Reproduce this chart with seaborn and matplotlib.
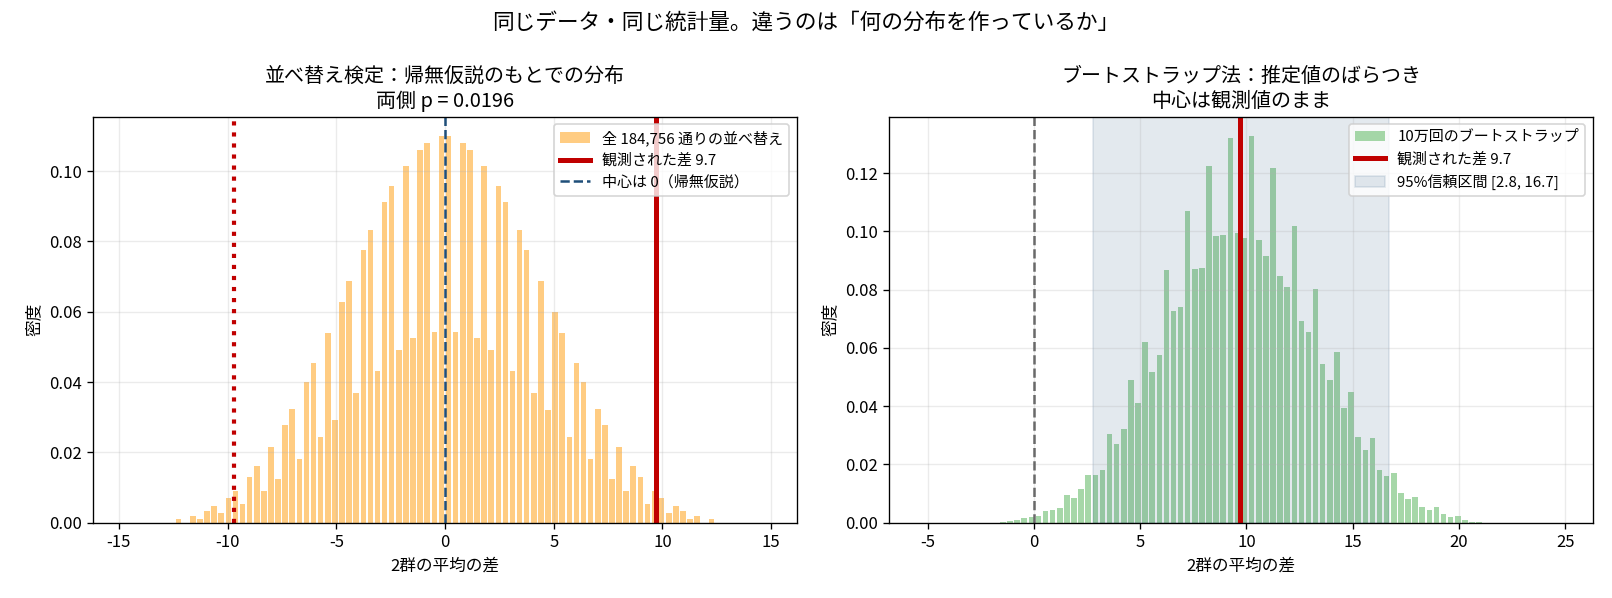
import numpy as np
import matplotlib
matplotlib.use("Agg")
import matplotlib.pyplot as plt
import seaborn as sns

plt.rcParams['font.family'] = ['Noto Sans CJK JP', 'DejaVu Sans']
plt.rcParams['axes.unicode_minus'] = False

# permutation distribution (density per bin), 90 bins over [-14.7, 14.7]
perm_range = (-14.7, 14.7)
perm_nbins = 90
perm_density = [
    0, 0, 0, 0, 0, 0, 0,
    0.0010, 0.0, 0.0019, 0.0010, 0.0033, 0.0047, 0.0027, 0.0070, 0.0090, 0.0053,
    0.0130, 0.0161, 0.0090, 0.0215, 0.0124, 0.0278, 0.0323, 0.0181, 0.0400, 0.0454,
    0.0243, 0.0539, 0.0292, 0.0628, 0.0687, 0.0369, 0.0776, 0.0832, 0.0431, 0.0912,
    0.0958, 0.0491, 0.1014, 0.0525, 0.1060, 0.1080, 0.0542, 0.1100,
    0.1100, 0.0543, 0.1080, 0.1060, 0.0525, 0.1014, 0.0491, 0.0958, 0.0912, 0.0431,
    0.0832, 0.0776, 0.0369, 0.0687, 0.0320, 0.0599, 0.0539, 0.0243, 0.0454, 0.0400,
    0.0181, 0.0323, 0.0278, 0.0124, 0.0215, 0.0090, 0.0161, 0.0130, 0.0053, 0.0090,
    0.0070, 0.0027, 0.0047, 0.0033, 0.0010, 0.0019, 0.0, 0.0010,
    0, 0, 0, 0, 0, 0, 0,
]

# bootstrap distribution (density per bin), 90 bins over [-5.30, 24.79]
boot_range = (-5.30, 24.79)
boot_nbins = 90
boot_density = [
    0, 0, 0, 0, 0, 0, 0, 0, 0, 0, 0,
    0.0003, 0.0004, 0.0009, 0.0015, 0.0019, 0.0022, 0.0040, 0.0043, 0.0050, 0.0094,
    0.0084, 0.0115, 0.0163, 0.0163, 0.0180, 0.0304, 0.0270, 0.0321, 0.0490, 0.0411,
    0.0620, 0.0517, 0.0576, 0.0868, 0.0727, 0.0741, 0.1071, 0.0871, 0.0875, 0.1225,
    0.0985, 0.0988, 0.1321, 0.0995, 0.0978, 0.1328, 0.0971, 0.0916, 0.1218, 0.0847,
    0.0809, 0.1019, 0.0692, 0.0655, 0.0802, 0.0545, 0.0490, 0.0586, 0.0393, 0.0448,
    0.0294, 0.0249, 0.0290, 0.0180, 0.0160, 0.0170, 0.0101, 0.0081, 0.0088, 0.0053,
    0.0043, 0.0053, 0.0029, 0.0019, 0.0022, 0.0008, 0.0003, 0.0003,
    0, 0, 0, 0, 0, 0, 0, 0, 0, 0, 0,
]

observed_diff = 9.7
ci_low, ci_high = 2.8, 16.7
p_two_sided = 0.0196
n_perm = 184756

orange = '#FFB74D'
green = '#81C784'
red = '#C00000'
navy = '#1F4E79'

fig, axes = plt.subplots(1, 2, figsize=(1612 / 120, 598 / 120), dpi=120)
fig.subplots_adjust(left=0.0579, right=0.9880, bottom=0.1261, top=0.8049, wspace=0.1318)


def legend_hist_first(ax):
    # histogram container comes last from matplotlib, move it to the top
    handles, labels = ax.get_legend_handles_labels()
    handles = handles[-1:] + handles[:-1]
    labels = labels[-1:] + labels[:-1]
    ax.legend(handles, labels, loc='upper right', fontsize=9)


# --- left: permutation test
ax = axes[0]
perm_edges = np.linspace(perm_range[0], perm_range[1], perm_nbins + 1)
perm_centers = (perm_edges[:-1] + perm_edges[1:]) / 2
sns.histplot(x=list(perm_centers), weights=perm_density, bins=perm_nbins,
             binrange=perm_range, ax=ax,
             color=orange, alpha=0.7, shrink=0.78, linewidth=0,
             label=f'全 {n_perm:,} 通りの並べ替え')
ax.axvline(observed_diff, color=red, lw=3, label=f'観測された差 {observed_diff}')
ax.axvline(-observed_diff, color=red, lw=2.5, ls=':')
ax.axvline(0, color=navy, lw=1.5, ls='--', label='中心は 0（帰無仮説）')
ax.set_xlim(-16.17, 16.17)
ax.set_title(f'並べ替え検定：帰無仮説のもとでの分布\n両側 p = {p_two_sided}')
ax.set_xlabel('2群の平均の差')
ax.set_ylabel('密度')
ax.grid(alpha=0.25)
legend_hist_first(ax)

# --- right: bootstrap
ax = axes[1]
boot_edges = np.linspace(boot_range[0], boot_range[1], boot_nbins + 1)
boot_centers = (boot_edges[:-1] + boot_edges[1:]) / 2
sns.histplot(x=list(boot_centers), weights=boot_density, bins=boot_nbins,
             binrange=boot_range, ax=ax,
             color=green, alpha=0.7, shrink=0.78, linewidth=0,
             label='10万回のブートストラップ')
ax.axvline(observed_diff, color=red, lw=3, label=f'観測された差 {observed_diff}')
ax.axvspan(ci_low, ci_high, color=navy, alpha=0.12,
           label=f'95%信頼区間 [{ci_low}, {ci_high}]')
ax.axvline(0, color='dimgray', lw=1.5, ls='--')
ax.set_xlim(-6.80, 26.29)
ax.set_title('ブートストラップ法：推定値のばらつき\n中心は観測値のまま')
ax.set_xlabel('2群の平均の差')
ax.set_ylabel('密度')
ax.grid(alpha=0.25)
legend_hist_first(ax)

fig.suptitle('同じデータ・同じ統計量。違うのは「何の分布を作っているか」', fontsize=13)
fig.savefig('out.png', dpi=120)
